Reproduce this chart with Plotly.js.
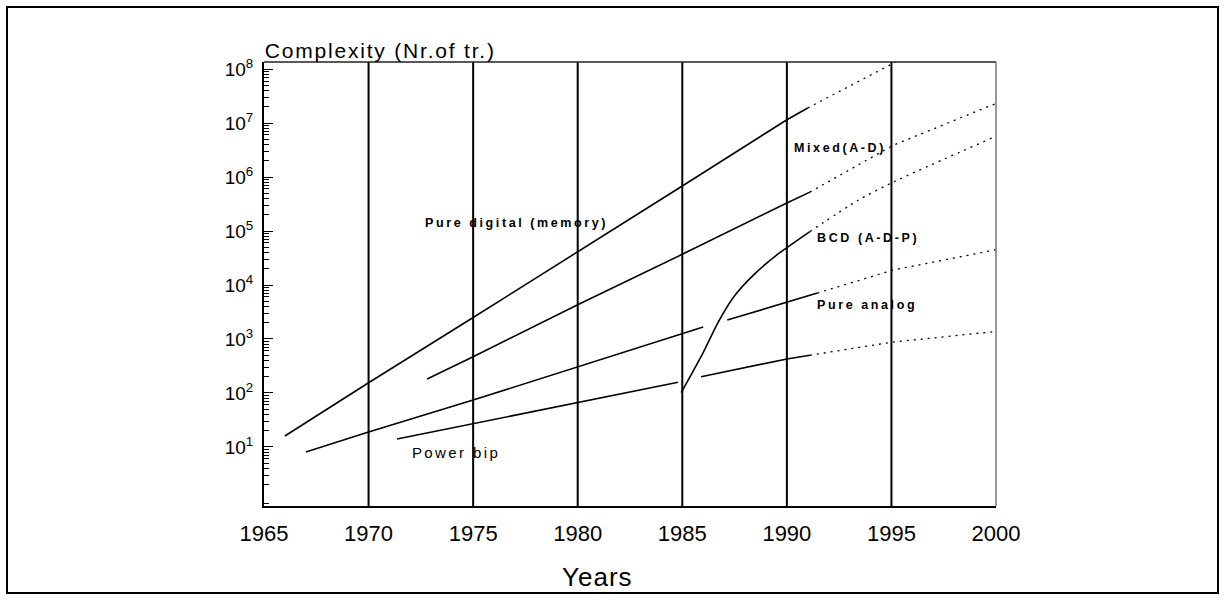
<!DOCTYPE html>
<html><head><meta charset="utf-8">
<script src="https://cdn.plot.ly/plotly-3.0.1.min.js"></script>
<style>
html,body{margin:0;padding:0;background:#fff;}
#chart{width:1226px;height:600px;position:absolute;left:0;top:0;}
#frame{position:absolute;left:6px;top:6px;width:1213px;height:588px;border:2px solid #000;box-sizing:border-box;pointer-events:none;}
.annotation-text{letter-spacing:2.6px;}
g.annotation[data-index="0"] .annotation-text{letter-spacing:1.8px;}
g.annotation[data-index="1"] .annotation-text{letter-spacing:1px;}
g.annotation[data-index="6"] .annotation-text{letter-spacing:2.4px;}
</style></head><body>
<div id="chart"></div><div id="frame"></div>
<script>
// ---- data ----
const digitalYears = [1966, 1970, 1975, 1980, 1985, 1990, 1991];
const digitalVals  = [16, 155, 2500, 41000, 680000, 11500000, 19000000];
const digitalProjYears = [1991, 1993, 1995.2];
const digitalProjVals  = [19000000, 48000000, 135000000];

const mixedYears = [1972.8, 1975, 1980, 1985, 1990, 1991.1];
const mixedVals  = [182, 470, 4300, 37000, 330000, 525000];
const mixedProjYears = [1991.1, 1995.1, 2000];
const mixedProjVals  = [525000, 3900000, 23000000];

const bcdYears = [1984.95, 1986.0, 1986.7, 1987.5, 1988.5, 1989.6, 1991.1];
const bcdVals  = [102, 562, 1995, 6310, 16600, 38000, 97700];
const bcdProjYears = [1991.1, 1993.4, 1995.1, 2000];
const bcdProjVals  = [97700, 370000, 810000, 5700000];

const analogYears = [1967, 1970, 1975, 1980, 1985, 1986, null, 1987.15, 1990, 1991.46];
const analogVals  = [8.1, 19, 74, 300, 1230, 1660, null, 2240, 4900, 7100];
const analogProjYears = [1991.46, 1995.1, 2000];
const analogProjVals  = [7100, 19000, 45000];

const bipYears = [1971.36, 1975, 1980, 1984.8, null, 1985.9, 1990, 1991.1];
const bipVals  = [14, 27, 68, 158, null, 200, 427, 500];
const bipProjYears = [1991.1, 1995, 2000];
const bipProjVals  = [500, 870, 1380];

const gridYears = [1970, 1975, 1980, 1985, 1990, 1995];
const xTickVals = [1965, 1970, 1975, 1980, 1985, 1990, 1995, 2000];
const yTickVals = [1e1, 1e2, 1e3, 1e4, 1e5, 1e6, 1e7, 1e8];
const yTickText = ['10<sup>1</sup>','10<sup>2</sup>','10<sup>3</sup>','10<sup>4</sup>','10<sup>5</sup>','10<sup>6</sup>','10<sup>7</sup>','10<sup>8</sup>'];

const labelTexts = ['Pure digital (memory)', 'Mixed(A-D)', 'BCD (A-D-P)', 'Pure analog', 'Power bip'];
const labelYears = [1972.75, 1990.4, 1991.5, 1991.5, 1972.1];
const labelVals  = [141000, 3470000, 74000, 4270, 7.8];

// ---- drawing ----
const FONT = 'Liberation Sans, Arial, sans-serif';
const solid = {color: '#000', width: 1.6};
const dotted = {color: '#000', width: 1.3, dash: '2px,5px'};
function tr(x, y, line, shape) {
  return {x: x, y: y, type: 'scatter', mode: 'lines', line: Object.assign({}, line, shape ? {shape: shape, smoothing: 0.6} : {}),
          connectgaps: false, hoverinfo: 'skip', showlegend: false, cliponaxis: true};
}
const data = [
  tr(digitalYears, digitalVals, solid), tr(digitalProjYears, digitalProjVals, dotted),
  tr(mixedYears, mixedVals, solid), tr(mixedProjYears, mixedProjVals, dotted),
  tr(bcdYears, bcdVals, solid, 'spline'), tr(bcdProjYears, bcdProjVals, dotted, 'spline'),
  tr(analogYears, analogVals, solid), tr(analogProjYears, analogProjVals, dotted),
  tr(bipYears, bipVals, solid), tr(bipProjYears, bipProjVals, dotted)
];

const minorVals = [];
for (let k = -1; k <= 8; k++) for (let m = 2; m <= 9; m++) minorVals.push(m * Math.pow(10, k));

const shapes = gridYears.map(g => ({type: 'line', xref: 'x', yref: 'paper', x0: g, x1: g, y0: 0, y1: 1,
  line: {color: '#000', width: 2}, layer: 'below'}));
shapes.push({type: 'line', xref: 'paper', yref: 'paper', x0: 0, x1: 1, y0: 1, y1: 1, line: {color: '#222', width: 1.5}});
shapes.push({type: 'line', xref: 'paper', yref: 'paper', x0: 1, x1: 1, y0: 0, y1: 1, line: {color: '#777', width: 1.5}});

const annotations = [
  {text: 'Complexity (Nr.of tr.)', xref: 'paper', yref: 'paper', x: 0, y: 1.027, xanchor: 'left', yanchor: 'middle',
   xshift: -10, showarrow: false, font: {family: FONT, size: 21, color: '#000'}},
  {text: 'Years', xref: 'paper', yref: 'paper', x: 0.455, y: -0.16, xanchor: 'center', yanchor: 'middle',
   showarrow: false, font: {family: FONT, size: 26, color: '#000'}}
];
labelTexts.forEach((t, i) => {
  annotations.push({text: t, xref: 'x', yref: 'y', x: labelYears[i], y: Math.log10(labelVals[i]),
    xanchor: 'left', yanchor: 'middle', showarrow: false, xshift: -3,
    font: {family: FONT, size: i === 4 ? 15 : 12.5, color: '#000', weight: i === 4 ? 'normal' : 'bold'}});
});

const layout = {
  width: 1226, height: 600,
  margin: {l: 264, r: 230, t: 62, b: 94},
  paper_bgcolor: '#fff', plot_bgcolor: '#fff',
  showlegend: false,
  xaxis: {range: [1965, 2000], tickmode: 'array', tickvals: xTickVals, ticks: '', showgrid: false, zeroline: false,
    showline: true, linecolor: '#000', linewidth: 2, ticklabelstandoff: 7,
    tickfont: {family: FONT, size: 22, color: '#000'}},
  yaxis: {type: 'log', range: [-0.093, 8.13], tickmode: 'array', tickvals: yTickVals, ticktext: yTickText,
    ticks: 'inside', ticklen: 9, tickwidth: 1, tickcolor: '#000', showgrid: false, zeroline: false,
    showline: true, linecolor: '#000', linewidth: 2, ticklabelstandoff: 5,
    minor: {tickmode: 'array', tickvals: minorVals, ticks: 'inside', ticklen: 5, tickwidth: 1, tickcolor: '#000', showgrid: false},
    tickfont: {family: FONT, size: 19, color: '#000'}},
  shapes: shapes,
  annotations: annotations
};
Plotly.newPlot('chart', data, layout, {staticPlot: true, displayModeBar: false});
</script></body></html>
